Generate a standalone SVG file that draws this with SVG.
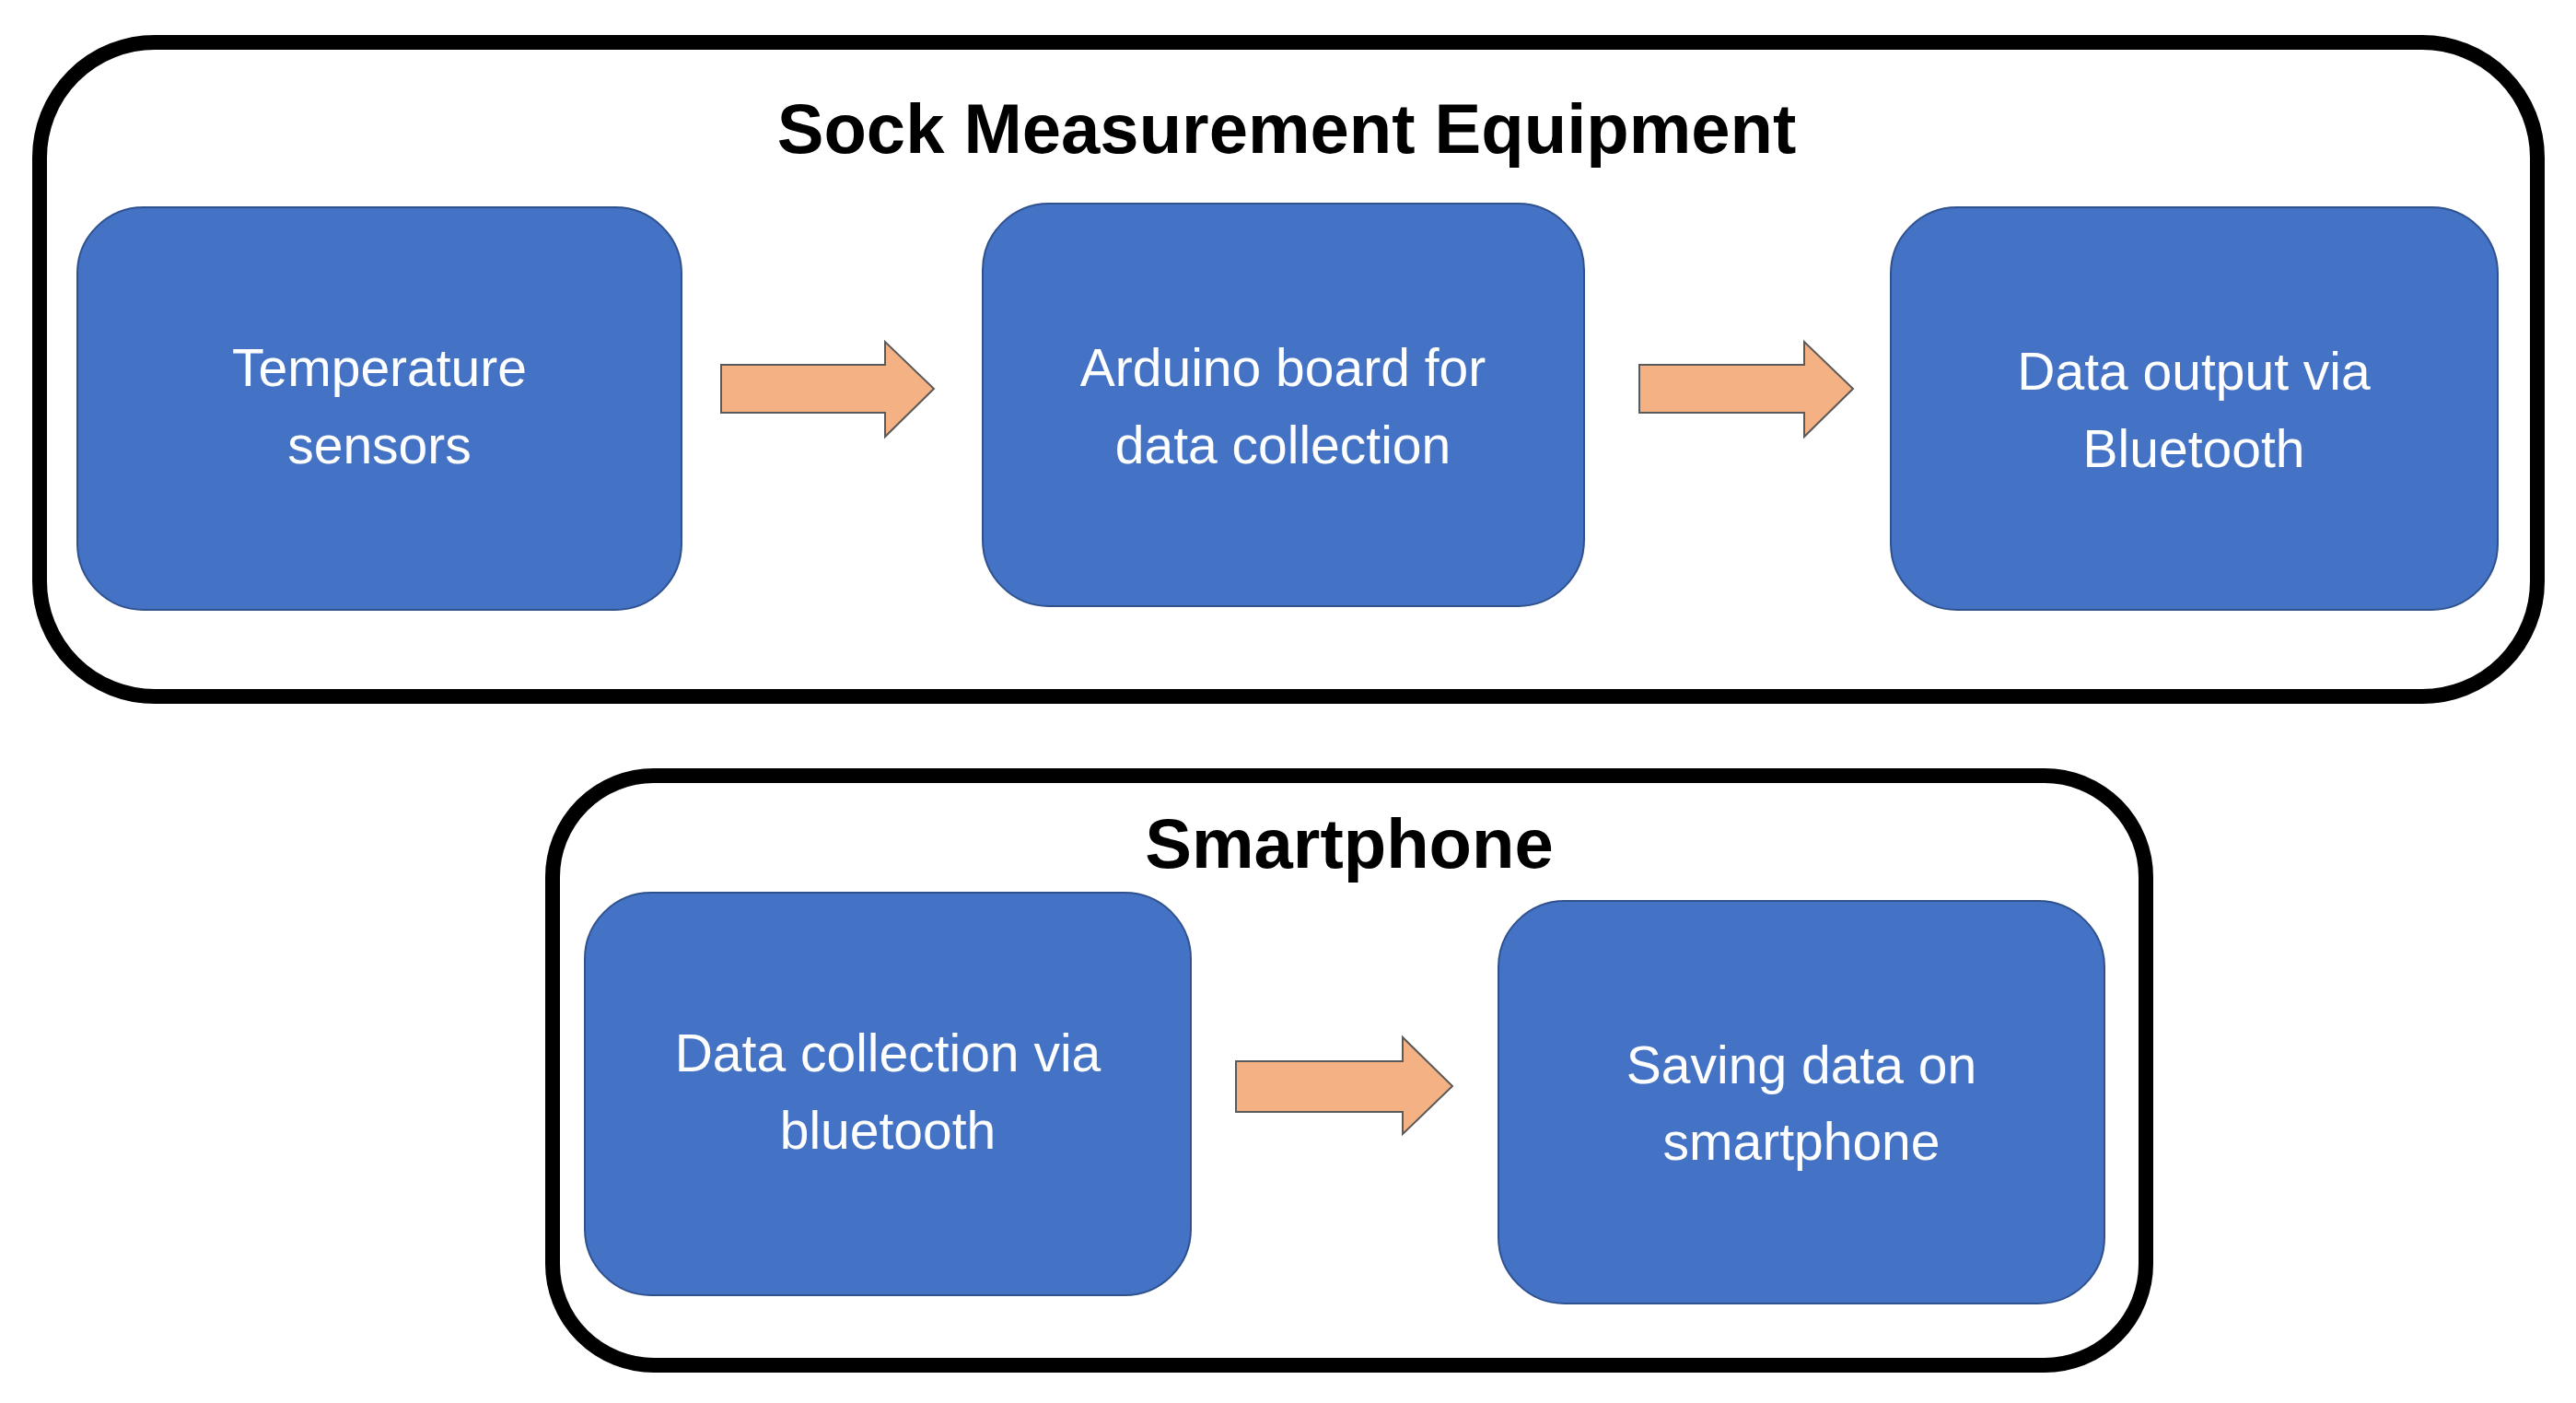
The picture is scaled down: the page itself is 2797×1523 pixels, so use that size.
<svg xmlns="http://www.w3.org/2000/svg" width="2797" height="1523" viewBox="0 0 2797 1523">
<style>
.frame{fill:none;stroke:#000;stroke-width:16}
.box{fill:#4472C4;stroke:#2F528F;stroke-width:2}
.t{font-family:"Liberation Sans",Arial,sans-serif;font-size:57px;fill:#fff;text-anchor:middle}
.h{font-family:"Liberation Sans",Arial,sans-serif;font-size:76px;font-weight:bold;fill:#000;text-anchor:middle}
.arr{fill:#F4B183;stroke:#5a5a5a;stroke-width:2}
</style>
<rect width="2797" height="1523" fill="#fff"/>
<g id="sock-group">
<rect class="frame" x="43" y="46" width="2712" height="710" rx="125"/>
<text class="h" x="1397" y="166">Sock Measurement Equipment</text>
</g>
<g id="temp-sensors"><rect class="box" x="84" y="225" width="656" height="437" rx="72"/>
<text class="t" x="412" y="419">Temperature</text><text class="t" x="412" y="503">sensors</text></g>
<g id="arduino"><rect class="box" x="1067" y="221" width="653" height="437" rx="72"/>
<text class="t" x="1393" y="419">Arduino board for</text><text class="t" x="1393" y="503">data collection</text></g>
<g id="bt-output"><rect class="box" x="2053" y="225" width="659" height="437" rx="72"/>
<text class="t" x="2382" y="423">Data output via</text><text class="t" x="2382" y="507">Bluetooth</text></g>
<g id="phone-group">
<rect class="frame" x="600" y="842" width="1730" height="640" rx="110"/>
<text class="h" x="1465" y="942">Smartphone</text>
</g>
<g id="bt-collection"><rect class="box" x="635" y="969" width="658" height="437" rx="72"/>
<text class="t" x="964" y="1163">Data collection via</text><text class="t" x="964" y="1247">bluetooth</text></g>
<g id="saving"><rect class="box" x="1627" y="978" width="658" height="437" rx="72"/>
<text class="t" x="1956" y="1176">Saving data on</text><text class="t" x="1956" y="1259">smartphone</text></g>
<g id="connectors">
<polygon class="arr" points="783,396 961,396 961,371 1014,422 961,474 961,448 783,448"/>
<polygon class="arr" points="1780,396 1959,396 1959,371 2012,422 1959,474 1959,448 1780,448"/>
<polygon class="arr" points="1342,1152 1523,1152 1523,1126 1577,1179 1523,1231 1523,1207 1342,1207"/>
</g>
</svg>
